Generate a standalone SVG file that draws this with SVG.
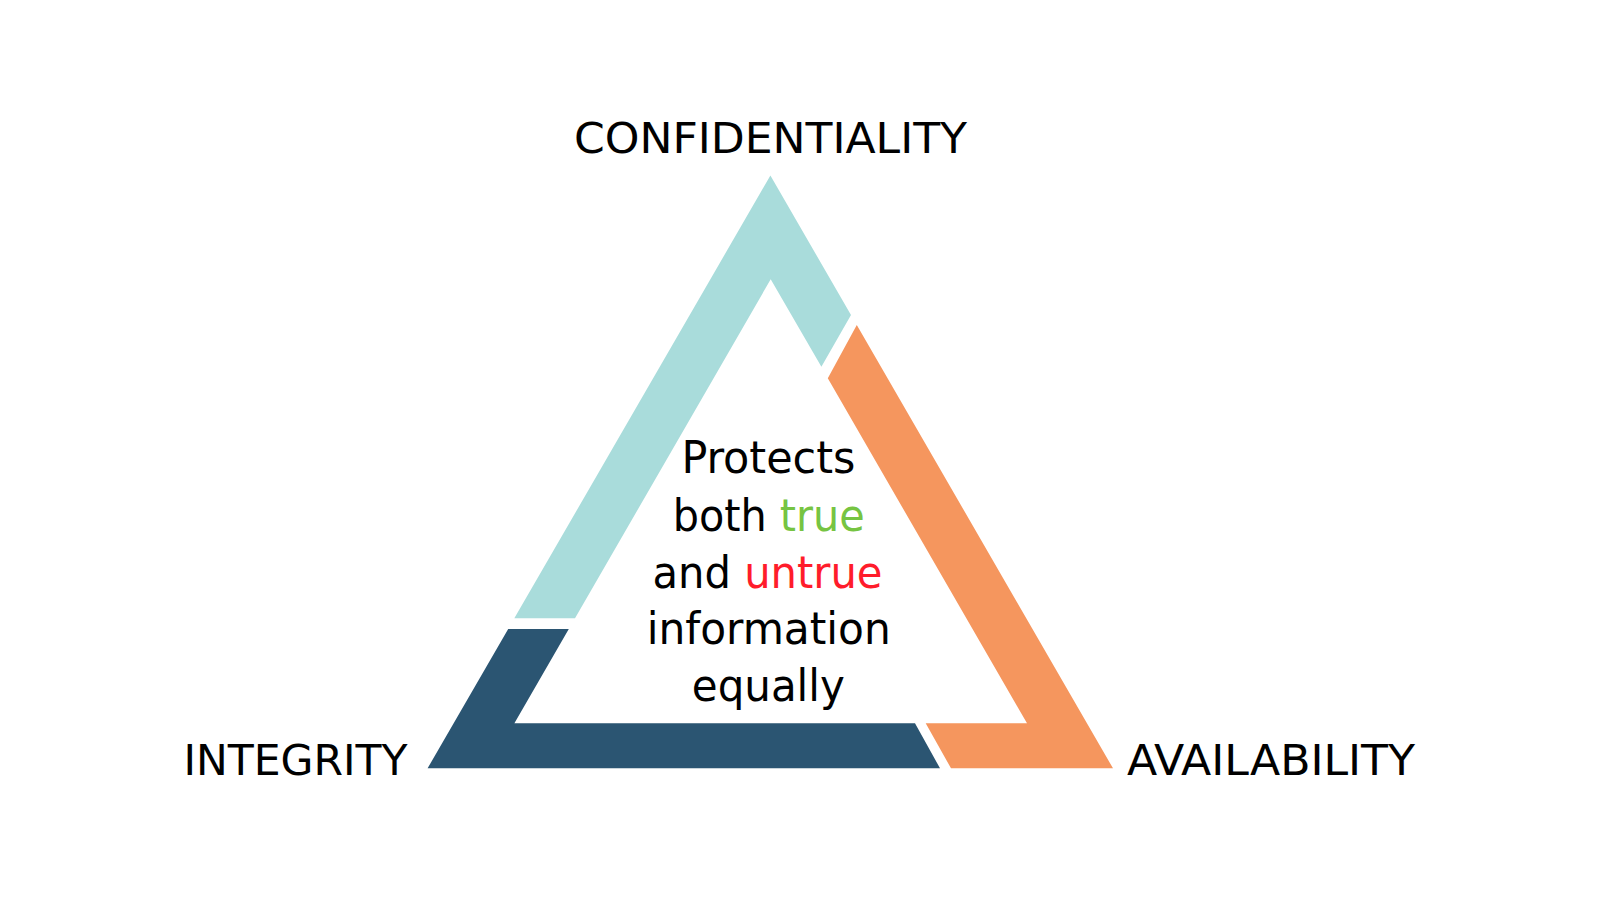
<svg xmlns="http://www.w3.org/2000/svg" width="1600" height="900" viewBox="0 0 1600 900">
<style>
.lbl{font-family:"DejaVu Sans Condensed","Liberation Sans",Arial,sans-serif;fill:#000;text-anchor:middle}
.corner{font-size:43px}
.mid{font-size:44px}
.true{fill:#76C442}
.untrue{fill:#FF1C2B}
</style>
<rect width="1600" height="900" fill="#FFFFFF"/>
<g id="confidentiality">
<polygon points="770.4,175.5 851,315 821.4,366.7 770.7,279.3 575,618.3 514.3,618.3" fill="#A9DCDB"/>
<text class="lbl corner" x="770.5" y="153.3" textLength="393" lengthAdjust="spacingAndGlyphs">CONFIDENTIALITY</text>
</g>
<g id="availability">
<polygon points="856.8,325 1113,768.3 951,768.3 925.7,723.3 1027,723.3 827.8,378.3" fill="#F5965E"/>
<text class="lbl corner" x="1271" y="775" textLength="288" lengthAdjust="spacingAndGlyphs">AVAILABILITY</text>
</g>
<g id="integrity">
<polygon points="508.2,629 568.8,629 514.4,723.3 915,723.3 940,768.3 427.6,768.3" fill="#2B5572"/>
<text class="lbl corner" x="295.5" y="775" textLength="224" lengthAdjust="spacingAndGlyphs">INTEGRITY</text>
</g>
<g id="center-text">
<text class="lbl mid" x="768.4" y="473" textLength="174" lengthAdjust="spacingAndGlyphs">Protects</text>
<text class="lbl mid" x="768.7" y="530.5" textLength="192" lengthAdjust="spacingAndGlyphs">both <tspan class="true">true</tspan></text>
<text class="lbl mid" x="767.5" y="587.5" textLength="230" lengthAdjust="spacingAndGlyphs">and <tspan class="untrue">untrue</tspan></text>
<text class="lbl mid" x="768.8" y="644" textLength="244" lengthAdjust="spacingAndGlyphs">information</text>
<text class="lbl mid" x="768.3" y="700.5" textLength="153" lengthAdjust="spacingAndGlyphs">equally</text>
</g>
</svg>
